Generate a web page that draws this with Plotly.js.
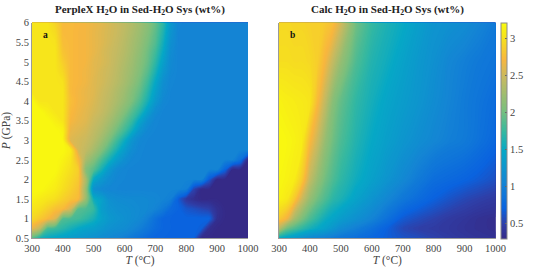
<!DOCTYPE html>
<html><head><meta charset="utf-8">
<script src="https://cdn.plot.ly/plotly-3.0.1.min.js"></script>
<style>html,body{margin:0;padding:0;background:#fff}</style></head>
<body><div id="chart" style="width:540px;height:270px"></div>
<script>
const tempLeft=[300,325,350,375,400,425,450,475,500,525,550,575,600,625,650,675,700,725,750,775,800,825,850,875,900,925,950,975,1000];
const presLeft=[0.5,0.75,1,1.25,1.5,1.75,2,2.25,2.5,2.75,3,3.25,3.5,3.75,4,4.25,4.5,4.75,5,5.25,5.5,5.75,6];
const zLeft=[
[1.9,1.6,1.5,1.45,1.4,1.35,1.3,1.25,1.2,1.15,1.1,1.05,1.0,0.92,0.85,0.78,0.72,0.72,0.72,0.72,0.72,0.7,0.3,0.3,0.3,0.3,0.3,0.3,0.3],
[2.65,2.45,1.85,1.78,1.7,1.6,1.5,1.42,1.38,1.3,1.22,1.18,1.15,1.08,1.0,0.9,0.8,0.74,0.72,0.72,0.72,0.72,0.68,0.35,0.3,0.3,0.3,0.3,0.3],
[2.95,2.85,2.75,2.6,1.88,1.84,1.8,1.72,1.6,1.42,1.3,1.24,1.2,1.15,1.1,1.0,0.85,0.74,0.72,0.72,0.72,0.72,0.72,0.72,0.35,0.3,0.3,0.3,0.3],
[3.05,3.0,2.9,2.8,2.75,2.55,1.9,1.85,1.75,1.38,1.25,1.2,1.18,1.15,1.12,1.1,1.05,0.95,0.78,0.72,0.64,0.6,0.55,0.5,0.36,0.3,0.3,0.3,0.3],
[3.15,3.1,3.05,3.0,2.9,2.82,2.75,2.2,1.55,1.4,1.2,1.15,1.13,1.12,1.12,1.1,1.08,1.05,1.0,0.68,0.45,0.35,0.3,0.3,0.3,0.3,0.3,0.3,0.3],
[3.2,3.2,3.15,3.1,3.0,2.9,2.8,2.2,1.2,1.12,1.08,1.06,1.05,1.05,1.05,1.05,1.05,1.05,1.05,1.05,1.0,0.53,0.3,0.3,0.3,0.3,0.3,0.3,0.3],
[3.2,3.2,3.2,3.15,3.05,2.95,2.85,2.3,1.5,1.3,1.15,1.08,1.06,1.05,1.05,1.05,1.05,1.05,1.05,1.05,1.05,1.05,1.05,0.65,0.3,0.3,0.3,0.3,0.3],
[3.2,3.2,3.2,3.2,3.1,3.0,2.88,2.1,1.9,1.6,1.3,1.12,1.07,1.05,1.05,1.05,1.05,1.05,1.05,1.05,1.05,1.05,1.05,1.05,1.05,0.73,0.3,0.3,0.3],
[3.2,3.2,3.2,3.2,3.15,3.05,2.75,2.3,2.1,1.85,1.6,1.35,1.18,1.08,1.06,1.05,1.05,1.05,1.05,1.05,1.05,1.05,1.05,1.05,1.05,1.05,1.05,0.85,0.3],
[3.2,3.2,3.2,3.2,3.2,3.1,2.55,2.45,2.3,2.1,1.85,1.6,1.35,1.15,1.07,1.05,1.05,1.05,1.05,1.05,1.05,1.05,1.05,1.05,1.05,1.05,1.05,1.05,1.05],
[3.2,3.2,3.2,3.2,3.18,2.6,2.55,2.5,2.4,2.25,2.05,1.8,1.55,1.25,1.1,1.06,1.05,1.05,1.05,1.05,1.05,1.05,1.05,1.05,1.05,1.05,1.05,1.05,1.05],
[3.2,3.2,3.2,3.2,3.15,2.65,2.6,2.55,2.45,2.35,2.2,2.0,1.8,1.55,1.25,1.1,1.06,1.05,1.05,1.05,1.05,1.05,1.05,1.05,1.05,1.05,1.05,1.05,1.05],
[3.2,3.2,3.2,3.13,3.05,2.72,2.65,2.6,2.5,2.42,2.3,2.15,1.95,1.75,1.45,1.2,1.07,1.05,1.05,1.05,1.05,1.05,1.05,1.05,1.05,1.05,1.05,1.05,1.05],
[3.2,3.2,3.12,3.05,3.05,2.75,2.68,2.62,2.55,2.48,2.38,2.25,2.1,1.9,1.7,1.4,1.15,1.06,1.05,1.05,1.05,1.05,1.05,1.05,1.05,1.05,1.05,1.05,1.05],
[3.2,3.05,3.05,3.05,3.05,2.78,2.7,2.65,2.58,2.5,2.42,2.32,2.2,2.05,1.85,1.6,1.3,1.1,1.05,1.05,1.05,1.05,1.05,1.05,1.05,1.05,1.05,1.05,1.05],
[3.05,3.05,3.05,3.05,3.05,2.75,2.7,2.65,2.6,2.52,2.45,2.35,2.25,2.1,1.95,1.7,1.4,1.15,1.06,1.05,1.05,1.05,1.05,1.05,1.05,1.05,1.05,1.05,1.05],
[3.05,3.05,3.05,3.05,3.02,2.75,2.72,2.68,2.6,2.55,2.48,2.4,2.3,2.18,2.02,1.8,1.5,1.2,1.07,1.05,1.05,1.05,1.05,1.05,1.05,1.05,1.05,1.05,1.05],
[3.05,3.05,3.05,3.05,2.95,2.75,2.72,2.68,2.62,2.55,2.5,2.42,2.32,2.22,2.08,1.9,1.62,1.3,1.1,1.05,1.05,1.05,1.05,1.05,1.05,1.05,1.05,1.05,1.05],
[3.05,3.05,3.05,3.05,2.88,2.75,2.72,2.7,2.62,2.58,2.52,2.44,2.35,2.25,2.12,1.97,1.72,1.4,1.12,1.05,1.05,1.05,1.05,1.05,1.05,1.05,1.05,1.05,1.05],
[3.05,3.05,3.05,3.05,2.82,2.75,2.72,2.7,2.65,2.58,2.52,2.46,2.38,2.28,2.16,2.0,1.8,1.5,1.15,1.05,1.05,1.05,1.05,1.05,1.05,1.05,1.05,1.05,1.05],
[3.05,3.05,3.05,3.03,2.78,2.75,2.72,2.7,2.65,2.6,2.54,2.48,2.4,2.3,2.2,2.05,1.88,1.58,1.2,1.05,1.05,1.05,1.05,1.05,1.05,1.05,1.05,1.05,1.05],
[3.05,3.05,3.05,2.98,2.76,2.75,2.72,2.7,2.65,2.6,2.55,2.5,2.42,2.33,2.23,2.1,1.92,1.65,1.25,1.06,1.05,1.05,1.05,1.05,1.05,1.05,1.05,1.05,1.05],
[3.05,3.05,3.05,2.92,2.76,2.75,2.73,2.7,2.66,2.62,2.56,2.5,2.44,2.36,2.26,2.14,1.97,1.72,1.3,1.07,1.05,1.05,1.05,1.05,1.05,1.05,1.05,1.05,1.05]
];
const tempRight=[300,325,350,375,400,425,450,475,500,550,600,650,700,750,800,850,900,950,1000];
const presRight=[0.5,0.75,1,1.5,2,3,4,5,6];
const zRight=[
[1.5,1.4,1.3,1.2,1.1,1.05,1.0,0.95,0.9,0.82,0.75,0.68,0.62,0.58,0.52,0.47,0.43,0.4,0.38],
[2.4,2.0,1.85,1.72,1.6,1.5,1.4,1.28,1.15,1.0,0.85,0.7,0.56,0.5,0.47,0.44,0.4,0.37,0.35],
[2.85,2.7,2.3,2.05,1.85,1.7,1.55,1.45,1.35,1.2,1.05,0.85,0.66,0.58,0.52,0.46,0.42,0.37,0.35],
[3.15,3.08,2.85,2.5,2.2,2.0,1.85,1.7,1.62,1.42,1.25,1.08,0.92,0.8,0.7,0.62,0.55,0.5,0.46],
[3.18,3.15,3.1,2.85,2.45,2.2,2.0,1.85,1.72,1.55,1.4,1.25,1.1,0.95,0.82,0.77,0.72,0.66,0.6],
[3.2,3.18,3.15,3.1,2.75,2.5,2.2,2.0,1.85,1.65,1.5,1.38,1.27,1.17,1.08,1.0,0.95,0.85,0.75],
[3.15,3.12,3.1,3.08,3.05,2.75,2.45,2.12,1.95,1.72,1.58,1.45,1.35,1.26,1.15,1.05,0.96,0.88,0.8],
[3.0,3.0,2.98,2.98,2.95,2.88,2.7,2.45,2.2,1.85,1.65,1.55,1.42,1.3,1.2,1.08,1.0,0.93,0.88],
[2.95,2.95,2.93,2.93,2.9,2.9,2.85,2.78,2.55,2.0,1.75,1.62,1.52,1.38,1.25,1.2,1.15,1.05,0.95]
];
const tickT=[300,400,500,600,700,800,900,1000];
const tickP=[0.5,1,1.5,2,2.5,3,3.5,4,4.5,5,5.5,6];
const tickZ=[0.5,1,1.5,2,2.5,3];
const zMin=0.3, zMax=3.22;
const palette=[[0,'#352a87'],[0.07,'#2f3fa8'],[0.14,'#0a63df'],[0.26,'#1485d4'],[0.41,'#06a8c6'],[0.5,'#38b99e'],[0.6,'#7cbf7c'],[0.75,'#c8ba60'],[0.83,'#f8b63e'],[0.92,'#f6dd20'],[1,'#f9fb0e']];
const W=540,H=270;
const dy=[(H-238.3)/H,(H-22.7)/H];
const font={family:'"Liberation Serif",serif',size:10.5,color:'#444'};
const levels={start:0.3,end:3.22,size:0.02,coloring:'fill',showlines:false};
function ax(x0,x1,extra){return Object.assign({domain:[x0/W,x1/W],showgrid:false,zeroline:false,showline:true,linecolor:'#9a9a9a',linewidth:1,ticks:'',mirror:false},extra);}
const data=[
{type:'contour',x:tempLeft,y:presLeft,z:zLeft,contours:levels,line:{width:0},zmin:zMin,zmax:zMax,colorscale:palette,showscale:false,xaxis:'x',yaxis:'y'},
{type:'contour',x:tempRight,y:presRight,z:zRight,contours:levels,line:{width:0},zmin:zMin,zmax:zMax,colorscale:palette,xaxis:'x2',yaxis:'y2',
 colorbar:{thickness:5.5,thicknessmode:'pixels',len:215.6/270,lenmode:'fraction',x:500.5/W,xanchor:'left',y:(dy[0]+dy[1])/2,yanchor:'middle',
  tickvals:tickZ,ticktext:tickZ.map(String),ticks:'inside',ticklen:2,tickcolor:'#666',outlinecolor:'#8a8a8a',outlinewidth:1,xpad:0,ypad:0,tickfont:font}}
];
const xTitle={text:'<i>T</i> (°C)',font:{family:font.family,size:11.5,color:'#444'},standoff:2};
const layout={width:W,height:H,margin:{l:0,r:0,t:0,b:0},paper_bgcolor:'#fff',plot_bgcolor:'#fff',font:font,showlegend:false,
 xaxis:ax(32,248,{range:[300,1000],tickvals:tickT,title:xTitle,anchor:'y'}),
 yaxis:{domain:dy,range:[0.5,6],tickvals:tickP,ticktext:tickP.map(String),anchor:'x',showgrid:false,zeroline:false,showline:true,linecolor:'#9a9a9a',ticks:'',
  title:{text:'<i>P</i> (GPa)',font:{family:font.family,size:11.5,color:'#444'},standoff:2}},
 xaxis2:ax(279,495.6,{range:[300,1000],tickvals:tickT,title:xTitle,anchor:'y2'}),
 yaxis2:{domain:dy,range:[0.5,6],showticklabels:false,anchor:'x2',showgrid:false,zeroline:false,showline:true,linecolor:'#9a9a9a',ticks:''},
 annotations:[
  {xref:'paper',yref:'paper',x:140/W,xanchor:'center',y:(H-1)/H,yanchor:'top',showarrow:false,text:'<b>PerpleX H<sub>2</sub>O in Sed-H<sub>2</sub>O Sys (wt%)</b>',font:{family:font.family,size:11,color:'#222'}},
  {xref:'paper',yref:'paper',x:387/W,xanchor:'center',y:(H-1)/H,yanchor:'top',showarrow:false,text:'<b>Calc H<sub>2</sub>O in Sed-H<sub>2</sub>O Sys (wt%)</b>',font:{family:font.family,size:11,color:'#222'}},
  {xref:'x',yref:'y',x:344,y:5.68,showarrow:false,text:'<b>a</b>',font:{family:font.family,size:9.5,color:'#111'}},
  {xref:'x2',yref:'y2',x:343,y:5.68,showarrow:false,text:'<b>b</b>',font:{family:font.family,size:9.5,color:'#111'}}
 ]};
Plotly.newPlot('chart',data,layout,{displayModeBar:false,staticPlot:true});
</script></body></html>
